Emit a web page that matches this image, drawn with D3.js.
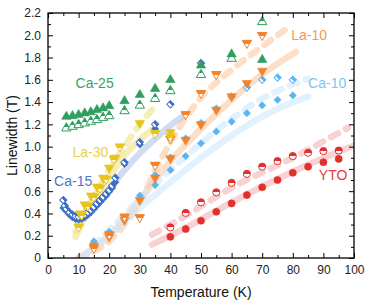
<!DOCTYPE html>
<html><head><meta charset="utf-8">
<script src="https://cdn.jsdelivr.net/npm/d3@7/dist/d3.min.js"></script>
<style>body{margin:0;background:#fff}svg{display:block;font-family:"Liberation Sans",Arial,sans-serif}</style>
</head><body><svg id="c" width="374" height="308"></svg>
<script>
// ---------- data ----------
const xTicks = [0,10,20,30,40,50,60,70,80,90,100];
const yTicks = [0,0.2,0.4,0.6,0.8,1.0,1.2,1.4,1.6,1.8,2.0,2.2];

// YTO (circles)
const ytoT = [40,45,50,55,60,65,70,75,80,85,90,95];
const ytoFilled = [0.19,0.26,0.335,0.415,0.49,0.565,0.635,0.70,0.765,0.82,0.86,0.89];
const ytoOpen = [0.275,0.405,0.50,0.59,0.675,0.755,0.82,0.87,0.915,0.945,0.96,0.965];
const ytoFitT = [34,45,60,80,100], ytoFitV = [0.12,0.27,0.50,0.775,1.01];
const ytoDashT = [34,45,60,80,98], ytoDashV = [0.21,0.38,0.63,0.90,1.17];

// Ca-25 (up triangles)
const ca25T = [6,8,10,12,14,16,18,20,25,30,35,40,50,60,70];
const ca25Filled = [1.27,1.275,1.285,1.30,1.31,1.33,1.345,1.365,1.41,1.465,1.52,1.60,1.73,1.83,1.78];
const ca25Open = [1.165,1.18,1.195,1.21,1.225,1.24,1.26,1.275,1.32,1.37,1.43,1.50,1.645,1.79,2.12];

// Ca-15 (diamonds)
const ca15FT = [5,6,7,8,9,10,11,12,13,14,15,16,17,18,19,20,21,22,25,30,35];
const ca15Filled = [0.45,0.42,0.39,0.365,0.35,0.345,0.35,0.365,0.385,0.41,0.44,0.47,0.50,0.53,0.56,0.595,0.63,0.68,0.845,1.02,1.16];
const ca15OT = [5,5.5,6,7,8,9,10,11,12,13,14,15,16,17,18,19,20,21,22,25,30,35,40,50];
const ca15Open = [0.52,0.47,0.44,0.41,0.39,0.375,0.37,0.375,0.39,0.41,0.43,0.46,0.49,0.52,0.55,0.58,0.61,0.65,0.72,0.86,1.04,1.20,1.38,1.75];
const ca15FitT = [10,12,15,20,25,30,35,40,45], ca15FitV = [0.30,0.37,0.46,0.62,0.79,0.94,1.07,1.19,1.29];

// La-30 (down triangles)
const la30FT = [10.5,12,14,16,18,20,22,30,40];
const la30Filled = [0.40,0.48,0.56,0.64,0.72,0.81,0.90,1.21,1.13];
const la30OT = [10,11,13,15,17,19,21.5,23.5,35,40];
const la30Open = [0.28,0.39,0.47,0.55,0.63,0.71,0.89,1.00,1.12,1.09];
const la30FitT = [9,12,15,20,25,30,34], la30FitV = [0.19,0.36,0.50,0.72,0.92,1.06,1.15];
const la30DashT = [9,12,15,20,25,30,35], la30DashV = [0.24,0.40,0.55,0.79,1.00,1.20,1.36];

// La-10 (down triangles)
const la10FT = [15,20,25,30,35,40,45,50,55,60,65,70];
const la10Filled = [0.11,0.19,0.34,0.52,0.72,0.895,1.06,1.20,1.33,1.45,1.57,1.68];
const la10OT = [15,20,25,30,35,40,45,50,55,65,70];
const la10Open = [0.09,0.21,0.37,0.365,0.835,1.07,1.29,1.48,1.65,1.93,2.00];
const la10FitT = [10,15,20,25,30,40,50,60,70,81], la10FitV = [0.0,0.09,0.20,0.35,0.52,0.87,1.16,1.42,1.65,1.85];
const la10DashT = [10,15,20,25,30,35,40,45,50,60,70,78], la10DashV = [0.0,0.06,0.15,0.30,0.50,0.78,1.04,1.26,1.44,1.69,1.90,2.06];

// Ca-10 (diamonds)
const ca10FT = [15,20,25,30,35,40,45,50,55,60,65,70,75,80];
const ca10Filled = [0.15,0.235,0.36,0.56,0.655,0.79,0.915,1.03,1.135,1.225,1.30,1.37,1.42,1.46];
const ca10OT = [35,40,45,50,55,60,65,70,75,80];
const ca10Open = [0.74,0.90,1.07,1.21,1.34,1.45,1.53,1.60,1.62,1.60];
const ca10FitT = [11,15,20,30,40,50,60,70,85], ca10FitV = [0.0,0.09,0.20,0.45,0.68,0.90,1.10,1.27,1.45];
const ca10DashT = [11,15,20,30,40,50,60,70,85], ca10DashV = [0.0,0.11,0.25,0.53,0.79,1.03,1.25,1.43,1.61];

// ---------- chart ----------
const W = 374, H = 308;
const m = {l:48, r:20, t:13, b:50};
const svg = d3.select('#c');
const x = d3.scaleLinear().domain([0,100]).range([m.l, W-m.r]);
const y = d3.scaleLinear().domain([0,2.2]).range([H-m.b, m.t]);

const col = {
  yto:'#e2302f', ca25:'#2f9e5e', ca15:'#3f6fc6', la30:'#e8c51c', la10:'#f2832c', ca10:'#5ab6f0'
};
const band = {
  yto:'#f4b6b6', ca15:'#b4c6ea', la30:'#f0e48a', la10:'#fcc9a4', ca10:'#cfe8fb'
};

const defs = svg.append('defs');
defs.append('clipPath').attr('id','clip').append('rect')
  .attr('x',m.l).attr('y',m.t).attr('width',W-m.l-m.r).attr('height',H-m.t-m.b);
Object.entries(col).forEach(([k,c])=>{
  const g = defs.append('linearGradient').attr('id','half-'+k).attr('x1',0).attr('y1',0).attr('x2',0).attr('y2',1);
  g.append('stop').attr('offset','0%').attr('stop-color',c);
  g.append('stop').attr('offset','50%').attr('stop-color',c);
  g.append('stop').attr('offset','50%').attr('stop-color','#fff');
  g.append('stop').attr('offset','100%').attr('stop-color','#fff');
  const h = defs.append('linearGradient').attr('id','halfd-'+k).attr('x1',0).attr('y1',1).attr('x2',0).attr('y2',0);
  h.append('stop').attr('offset','0%').attr('stop-color',c);
  h.append('stop').attr('offset','45%').attr('stop-color',c);
  h.append('stop').attr('offset','45%').attr('stop-color','#fff');
  h.append('stop').attr('offset','100%').attr('stop-color','#fff');
});

const plot = svg.append('g').attr('clip-path','url(#clip)');
const line = d3.line().x(d=>x(d[0])).y(d=>y(d[1])).curve(d3.curveMonotoneX);
function fit(T,V,c,dashed){
  plot.append('path').datum(d3.zip(T,V)).attr('d',line)
    .attr('fill','none').attr('stroke',c).attr('stroke-width',6.5)
    .attr('stroke-opacity',0.62)
    .attr('stroke-linecap','round')
    .attr('stroke-dasharray', dashed ? '8,9' : null);
}
fit(la10DashT,la10DashV,band.la10,true);
fit(la10FitT,la10FitV,band.la10,false);
fit(ca10DashT,ca10DashV,band.ca10,true);
fit(ca10FitT,ca10FitV,band.ca10,false);
fit(ytoDashT,ytoDashV,band.yto,true);
fit(ytoFitT,ytoFitV,band.yto,false);
fit(ca15FitT,ca15FitV,band.ca15,false);
fit(la30DashT,la30DashV,band.la30,true);
fit(la30FitT,la30FitV,band.la30,false);

const shapes = {
  circle: {type:d3.symbolCircle, size:40, rot:0},
  up: {type:d3.symbolTriangle, size:38, rot:0},
  down: {type:d3.symbolTriangle, size:38, rot:180},
  diamond: {type:d3.symbolSquare, size:26, rot:45}
};
function markers(T,V,shape,key,open){
  const s = shapes[shape];
  const gen = d3.symbol().type(s.type).size(s.size);
  svg.append('g').selectAll('path').data(d3.zip(T,V)).join('path')
    .attr('d',gen)
    .attr('transform',d=>`translate(${x(d[0])},${y(d[1])}) rotate(${s.rot})`)
    .attr('fill', open ? (shape==='down' ? 'url(#halfd-'+key+')' : 'url(#half-'+key+')') : col[key])
    .attr('stroke',col[key]).attr('stroke-width', open ? 1 : 0.6);
}

markers(ca10FT,ca10Filled,'diamond','ca10',false);
markers(ca10OT,ca10Open,'diamond','ca10',true);
markers(la10FT,la10Filled,'down','la10',false);
markers(la10OT,la10Open,'down','la10',true);
markers(ytoT,ytoFilled,'circle','yto',false);
markers(ytoT,ytoOpen,'circle','yto',true);
markers(ca15FT,ca15Filled,'diamond','ca15',false);
markers(ca15OT,ca15Open,'diamond','ca15',true);
markers(la30FT,la30Filled,'down','la30',false);
markers(la30OT,la30Open,'down','la30',true);
markers(ca25T,ca25Filled,'up','ca25',false);
markers(ca25T,ca25Open,'up','ca25',true);

// ---------- axes ----------
const xMinor = d3.range(5,100,10);
const yMinor = d3.range(0.1,2.2,0.2);
function styleAxis(g){ g.select('.domain').remove(); g.selectAll('line').attr('stroke','#000').attr('stroke-width',1);
  g.selectAll('text').attr('font-size',12).attr('fill','#222'); }
svg.append('g').attr('transform',`translate(0,${H-m.b})`)
  .call(d3.axisBottom(x).tickValues(xTicks).tickSize(-5).tickPadding(7).tickFormat(d3.format('d'))).call(styleAxis);
svg.append('g').attr('transform',`translate(0,${H-m.b})`)
  .call(d3.axisBottom(x).tickValues(xMinor).tickSize(-3).tickFormat('')).call(styleAxis);
svg.append('g').attr('transform',`translate(0,${m.t})`)
  .call(d3.axisTop(x).tickValues(xTicks).tickSize(-5).tickFormat('')).call(styleAxis);
svg.append('g').attr('transform',`translate(0,${m.t})`)
  .call(d3.axisTop(x).tickValues(xMinor).tickSize(-3).tickFormat('')).call(styleAxis);
svg.append('g').attr('transform',`translate(${m.l},0)`)
  .call(d3.axisLeft(y).tickValues(yTicks).tickSize(-5).tickPadding(7).tickFormat(d=>d===0?'0':d3.format('.1f')(d))).call(styleAxis);
svg.append('g').attr('transform',`translate(${m.l},0)`)
  .call(d3.axisLeft(y).tickValues(yMinor).tickSize(-3).tickFormat('')).call(styleAxis);
svg.append('g').attr('transform',`translate(${W-m.r},0)`)
  .call(d3.axisRight(y).tickValues(yTicks).tickSize(-5).tickFormat('')).call(styleAxis);
svg.append('g').attr('transform',`translate(${W-m.r},0)`)
  .call(d3.axisRight(y).tickValues(yMinor).tickSize(-3).tickFormat('')).call(styleAxis);
svg.append('rect').attr('x',m.l).attr('y',m.t).attr('width',W-m.l-m.r).attr('height',H-m.t-m.b)
  .attr('fill','none').attr('stroke','#000').attr('stroke-width',1.3);

svg.append('text').attr('x',(m.l+W-m.r)/2).attr('y',297).attr('text-anchor','middle')
  .attr('font-size',14).attr('fill','#111').text('Temperature (K)');
svg.append('text').attr('transform',`translate(17,${(m.t+H-m.b)/2}) rotate(-90)`).attr('text-anchor','middle')
  .attr('font-size',14).attr('fill','#111').text('Linewidth (T)');

// ---------- series labels ----------
const labels = [
  {t:'Ca-25', T:9, V:1.53, c:'#3aa169'},
  {t:'La-30', T:8, V:0.91, c:'#ead04a'},
  {t:'Ca-15', T:2, V:0.65, c:'#4a78c8'},
  {t:'La-10', T:79.5, V:1.96, c:'#f59a56'},
  {t:'Ca-10', T:85, V:1.53, c:'#7cc6f2'},
  {t:'YTO', T:88.5, V:0.70, c:'#e53b3b'}
];
svg.append('g').selectAll('text').data(labels).join('text')
  .attr('x',d=>x(d.T)).attr('y',d=>y(d.V)).attr('font-size',14).attr('fill',d=>d.c).text(d=>d.t);
</script></body></html>
